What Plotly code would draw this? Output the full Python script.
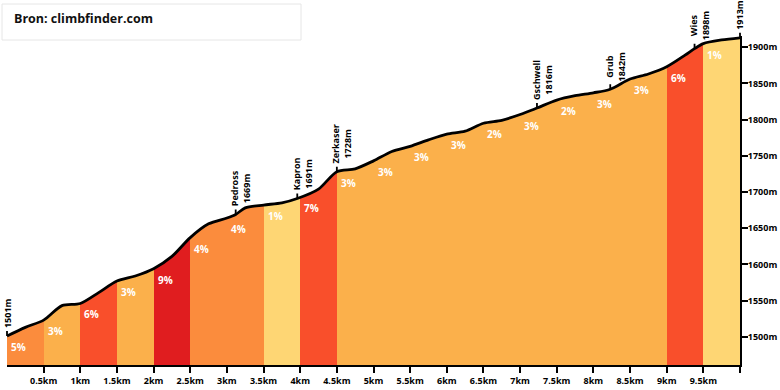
import numpy as np
import plotly.graph_objects as go

# ---------------- data ----------------
profile_km = [0, 0.25, 0.5, 0.75, 1.0, 1.25, 1.5, 1.75, 2.0, 2.25, 2.5, 2.75, 3.0, 3.12,
              3.25, 3.5, 3.75, 3.96, 4.25, 4.5, 4.75, 5.0, 5.25, 5.5, 5.75, 6.0, 6.25,
              6.5, 6.75, 7.0, 7.23, 7.5, 7.75, 8.0, 8.23, 8.5, 8.75, 9.0, 9.25, 9.38,
              9.5, 9.75, 10.0]
profile_elev = [1501, 1513, 1523, 1543, 1546, 1561, 1577, 1584, 1594, 1611, 1637, 1656,
                1664, 1669, 1678, 1682, 1685, 1691, 1704, 1728, 1732, 1743, 1756, 1763,
                1772, 1780, 1784, 1795, 1799, 1807, 1816, 1827, 1833, 1837, 1842, 1856,
                1863, 1873, 1889, 1898, 1905, 1910, 1913]

segment_start = [0, 0.5, 1.0, 1.5, 2.0, 2.5, 3.0, 3.5, 4.0, 4.5,
                 5.0, 5.5, 6.0, 6.5, 7.0, 7.5, 8.0, 8.5, 9.0, 9.5]
segment_end = [0.5, 1.0, 1.5, 2.0, 2.5, 3.0, 3.5, 4.0, 4.5, 5.0,
               5.5, 6.0, 6.5, 7.0, 7.5, 8.0, 8.5, 9.0, 9.5, 10.0]
segment_grade = [5, 3, 6, 3, 9, 4, 4, 1, 7, 3, 3, 3, 3, 2, 3, 2, 3, 3, 6, 1]

waypoint_name = ["", "Pedross", "Kapron", "Zerkaser", "Gschwell", "Grub", "Wies", ""]
waypoint_km = [0, 3.12, 3.96, 4.5, 7.23, 8.23, 9.38, 10.0]
waypoint_elev = [1501, 1669, 1691, 1728, 1816, 1842, 1898, 1913]

x_tickvals = [0.5, 1.0, 1.5, 2.0, 2.5, 3.0, 3.5, 4.0, 4.5, 5.0,
              5.5, 6.0, 6.5, 7.0, 7.5, 8.0, 8.5, 9.0, 9.5, 10.0]
x_ticktext = ["0.5km", "1km", "1.5km", "2km", "2.5km", "3km", "3.5km", "4km", "4.5km",
              "5km", "5.5km", "6km", "6.5km", "7km", "7.5km", "8km", "8.5km", "9km",
              "9.5km", ""]
y_tickvals = [1500, 1550, 1600, 1650, 1700, 1750, 1800, 1850, 1900]
y_ticktext = ["1500m", "1550m", "1600m", "1650m", "1700m", "1750m", "1800m", "1850m", "1900m"]

source_text = "Bron: climbfinder.com"

# ---------------- style ----------------
Y_LOW, Y_HIGH = 1461, 1915.5
X_LOW, X_HIGH = 0, 10
W, H = 780, 390
ML, MR, MT, MB = 7, 40, 36, 25
FONT = "Open Sans"


def grade_color(g):
    if g <= 1:
        return "#FED674"
    if g <= 3:
        return "#FBB04B"
    if g <= 5:
        return "#FB8C3D"
    if g <= 7:
        return "#F94F2B"
    return "#E01D1F"


fig = go.Figure()

# coloured gradient bands
centers = [(s + e) / 2 for s, e in zip(segment_start, segment_end)]
widths = [e - s for s, e in zip(segment_start, segment_end)]
fig.add_trace(go.Bar(
    x=centers, y=[Y_HIGH - Y_LOW] * len(centers), base=Y_LOW, width=widths,
    marker=dict(color=[grade_color(g) for g in segment_grade], line=dict(width=0)),
    hoverinfo="skip", showlegend=False))

# white mask above the profile
fig.add_trace(go.Scatter(
    x=[X_LOW, X_HIGH], y=[Y_HIGH + 5, Y_HIGH + 5], mode="lines",
    line=dict(width=0, color="white"), hoverinfo="skip", showlegend=False))
fig.add_trace(go.Scatter(
    x=profile_km, y=profile_elev, mode="lines",
    line=dict(color="black", width=2.8, shape="spline", smoothing=0.8),
    fill="tonexty", fillcolor="white", cliponaxis=False,
    hoverinfo="skip", showlegend=False))

annotations = []
# gradient labels
label_y = np.interp(segment_start, profile_km, profile_elev)
for s, g, yv in zip(segment_start, segment_grade, label_y):
    annotations.append(dict(
        x=s, y=float(yv), xref="x", yref="y", text=f"{g}%", showarrow=False,
        xanchor="left", yanchor="middle", xshift=3, yshift=-11, borderpad=0,
        font=dict(family=FONT, size=10, color="white", weight=700)))

# waypoint ticks and labels
for name, k, e in zip(waypoint_name, waypoint_km, waypoint_elev):
    annotations.append(dict(
        x=k, y=e, xref="x", yref="y", text=" ", showarrow=True, arrowhead=0,
        arrowwidth=1.8, arrowcolor="black", ax=0, ay=-6, standoff=0,
        font=dict(size=1), borderpad=0))
    txt = f"{name}<br>{e}m" if name else f"{e}m"
    annotations.append(dict(
        x=k, y=e, xref="x", yref="y", text=txt, showarrow=False, textangle=-90,
        xanchor="center", yanchor="bottom", yshift=7, xshift=5 if name else 0,
        borderpad=0, align="center",
        font=dict(family=FONT, size=9, color="black", weight=700)))

# source box
pw = W - ML - MR
ph = H - MT - MB
def px_x(p):
    return (p - ML) / pw
def px_y(p):
    return (H - MB - p) / ph

annotations.append(dict(
    x=px_x(13), y=px_y(18.5), xref="paper", yref="paper", text=source_text,
    showarrow=False, xanchor="left", yanchor="middle", borderpad=0,
    font=dict(family=FONT, size=12.5, color="#111111", weight=700)))

fig.add_shape(type="rect", xref="paper", yref="paper",
              x0=px_x(2), x1=px_x(301), y0=px_y(40), y1=px_y(4),
              line=dict(color="#e6e6e6", width=1), fillcolor="rgba(0,0,0,0)", layer="above")

tickfont = dict(family=FONT, size=9, color="black", weight=700)
fig.update_layout(
    width=W, height=H,
    margin=dict(l=ML, r=MR, t=MT, b=MB, pad=0, autoexpand=False),
    paper_bgcolor="white", plot_bgcolor="white",
    hovermode=False, showlegend=False, bargap=0,
    annotations=annotations,
    xaxis=dict(range=[X_LOW, X_HIGH], tickvals=x_tickvals, ticktext=x_ticktext,
               showline=True, linecolor="black", linewidth=2, automargin=False,
               ticks="outside", ticklen=6, tickwidth=2, tickcolor="black",
               showgrid=False, zeroline=False, tickfont=tickfont, fixedrange=True),
    yaxis=dict(range=[Y_LOW, Y_HIGH], side="right", tickvals=y_tickvals,
               ticktext=y_ticktext, showline=True, linecolor="black", linewidth=2,
               automargin=False, ticklabelstandoff=-2,
               ticks="outside", ticklen=6, tickwidth=2, tickcolor="black",
               showgrid=False, zeroline=False, tickfont=tickfont, fixedrange=True),
)

fig.write_html(
    "out.html",
    config={"displayModeBar": False},
    post_script="document.body.style.margin='0';document.body.style.overflow='hidden';",
)
